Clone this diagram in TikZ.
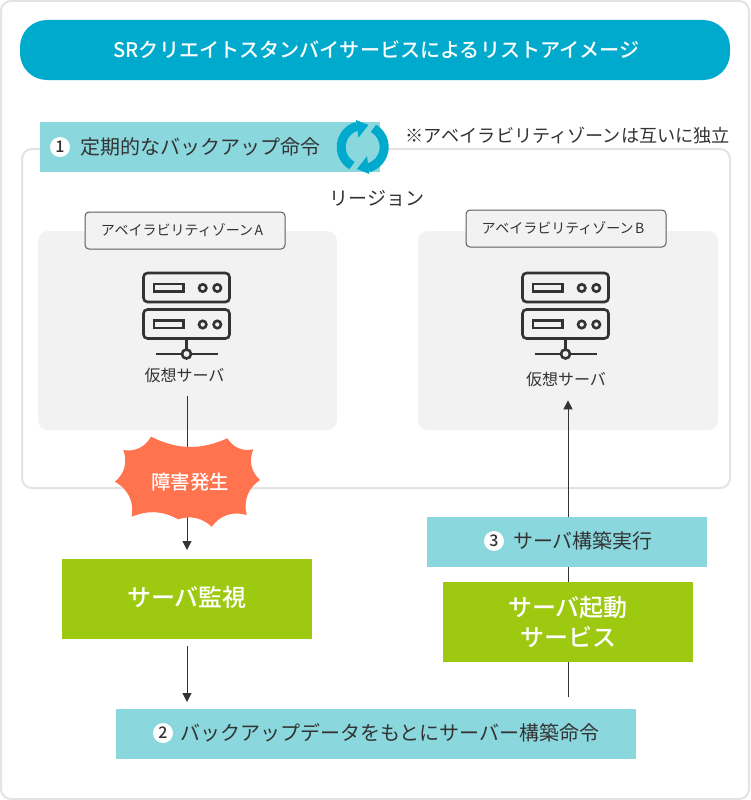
\documentclass[tikz,border=0pt]{standalone}
\usepackage{fontspec}
\setmainfont{Noto Sans CJK JP}
\newfontfamily\mediumFont{Noto Sans CJK JP Medium}
\usetikzlibrary{positioning,arrows.meta,backgrounds}
\definecolor{headColor}{RGB}{0,170,204}
\definecolor{tealColor}{RGB}{138,215,222}
\definecolor{greenColor}{RGB}{157,201,16}
\definecolor{burstColor}{RGB}{255,115,78}
\definecolor{panelColor}{RGB}{242,242,242}
\definecolor{frameColor}{RGB}{227,227,227}
\definecolor{inkColor}{RGB}{51,51,51}
\tikzstyle{sheet} = [x = 1pt, y = -1pt, every node/.style={text=inkColor, inner sep=0pt, outer sep=0pt}]
\tikzstyle{frameLine} = [draw=frameColor, line width=2pt, rounded corners = 10pt]
\tikzstyle{panelStyle} = [fill=panelColor, rounded corners = 10pt]
\tikzstyle{tealBox} = [fill=tealColor, minimum height=50pt]
\tikzstyle{greenBox} = [fill=greenColor, minimum width=250pt, minimum height=80pt, text=white, font=\fontsize{24}{30}\selectfont\mediumFont, align=center]
\tikzstyle{tagBox} = [draw=inkColor!80, fill=panelColor, line width=1pt, rounded corners = 4pt, minimum width=200pt, minimum height=37pt, font=\fontsize{14}{16}\selectfont]
\tikzstyle{numDot} = [circle, fill=white, minimum size=20pt, font=\fontsize{16}{16}\selectfont\mediumFont]
\tikzstyle{tealText} = [font=\fontsize{20}{24}\selectfont]
\tikzstyle{serverText} = [font=\fontsize{16}{18}\selectfont]
\tikzstyle{iconLine} = [draw=inkColor, line width=2.6pt]
\tikzstyle{flowLine} = [draw=inkColor, line width=1pt]
\tikzstyle{flowArrow} = [flowLine, -{Triangle[width=9pt,length=9pt]}]
\newcommand{\serverUnit}[2]{
  \draw [iconLine, rounded corners = 4pt] (#1 + 143.5, #2) rectangle + (86, 29);
  \draw [iconLine] (#1 + 154, #2 + 11) rectangle + (29.5, 7.5);
  \draw [iconLine] (#1 + 202.7, #2 + 15) circle (3.7);
  \draw [iconLine] (#1 + 217.3, #2 + 15) circle (3.7);
}
\newcommand{\serverIcon}[1]{
  \serverUnit{#1}{273}
  \serverUnit{#1}{309.5}
  \draw [iconLine] (#1 + 186.5, 338) -- + (0, 16);
  \draw [iconLine] (#1 + 155.5, 354) -- + (62, 0);
  \filldraw [iconLine, fill=panelColor] (#1 + 186.5, 354) circle (4.5);
}

\begin{document}
\begin{tikzpicture}[sheet]
  \useasboundingbox (0,0) rectangle (750,800);

  \begin{scope}[on background layer]
    \fill [white] (0,0) rectangle (750,800);
    \draw [frameLine] (1,1) rectangle (749,799);
    \draw [frameLine] (22,149) rectangle (730,488);
    \fill [panelStyle] (38,231) rectangle (337,430);
    \fill [panelStyle] (418,231) rectangle (718,430);
  \end{scope}

  \node [fill=headColor, rounded corners = 27pt, minimum width=710pt, minimum height=60pt, text=white, font=\fontsize{20.1}{24}\selectfont\mediumFont] (title) at (375,50) {\kern3ptSRクリエイトスタンバイサービスによるリストアイメージ};

  % step one with the refresh mark
  \node [tealBox, minimum width=340pt] (backupBox) at (210,147) {};
  \node [numDot] (numOne) at (60,147) {1};
  \node [tealText, right=10pt of numOne] (backupText) {定期的なバックアップ命令};
  \begin{scope}[shift={(362.7,147)}, yscale=-1]
    \foreach \ang in {0,180} {
      \begin{scope}[rotate=\ang]
        \draw [headColor, line width=9pt] (240:21.5) arc [start angle=240, end angle=105, radius=21.5];
        \fill [headColor] (-6.7,27) -- (5.7,22) -- (-4.3,9.3) -- cycle;
      \end{scope}
    }
  \end{scope}
  \node [font=\fontsize{18.15}{20}\selectfont, anchor=east] (noteText) at (730,135) {※アベイラビリティゾーンは互いに独立};
  \node [font=\fontsize{19}{20}\selectfont] (regionText) at (377,198) {リージョン};

  \node [tagBox] (zoneA) at (185,230.5) {アベイラビリティゾーン\kern1.5ptA\kern6pt};
  \node [tagBox] (zoneB) at (566,228.5) {アベイラビリティゾーン\kern1.5ptB\kern6pt};

  \serverIcon{0}
  \serverIcon{379}
  \node [serverText] (serverA) at (184.5,375) {仮想サーバ};
  \node [serverText] (serverB) at (566,379) {仮想サーバ};

  \fill [burstColor] (115,481.7) to [bend right=35] (123.3,450) to [bend right=35] (151,436.7)
    to [bend right=25] (227.3,438.3) to [bend right=35] (253.3,449.3) to [bend right=35] (260,480)
    to [bend right=35] (246.7,515) to [bend right=35] (211.7,526.7) to [bend right=30] (178.3,519.3)
    to [bend right=25] (131.7,516.7) to [bend right=35] cycle;
  \node [text=white, font=\fontsize{19.5}{22}\selectfont\mediumFont] (failText) at (190,482) {障害発生};

  \node [greenBox, text depth=6pt] (monitor) at (187,599) {サーバ監視};
  \node [greenBox] (service) at (568,622) {サーバ起動\\サービス};

  \node [tealBox, minimum width=280pt] (buildBox) at (567,542) {};
  \node [numDot] (numThree) at (494,541) {3};
  \node [tealText, right=9pt of numThree] (buildText) {サーバ構築実行};

  \node [tealBox, minimum width=520pt] (orderBox) at (376,734) {};
  \node [numDot] (numTwo) at (163,733) {2};
  \node [tealText, right=7pt of numTwo] (orderText) {バックアップデータをもとにサーバー構築命令};

  % connectors go under the boxes
  \begin{scope}[on background layer]
    \draw [flowArrow, shorten <=14pt, shorten >=9pt] (monitor.north |- serverA.south) -- (monitor.north);
    \draw [flowArrow, shorten <=7pt, shorten >=7pt] (monitor.south) -- (monitor.south |- orderBox.north);
    \draw [flowArrow, shorten <=12pt, shorten >=14pt] (service.north |- orderBox.north) -- (service.north |- serverB.south);
  \end{scope}
\end{tikzpicture}
\end{document}
